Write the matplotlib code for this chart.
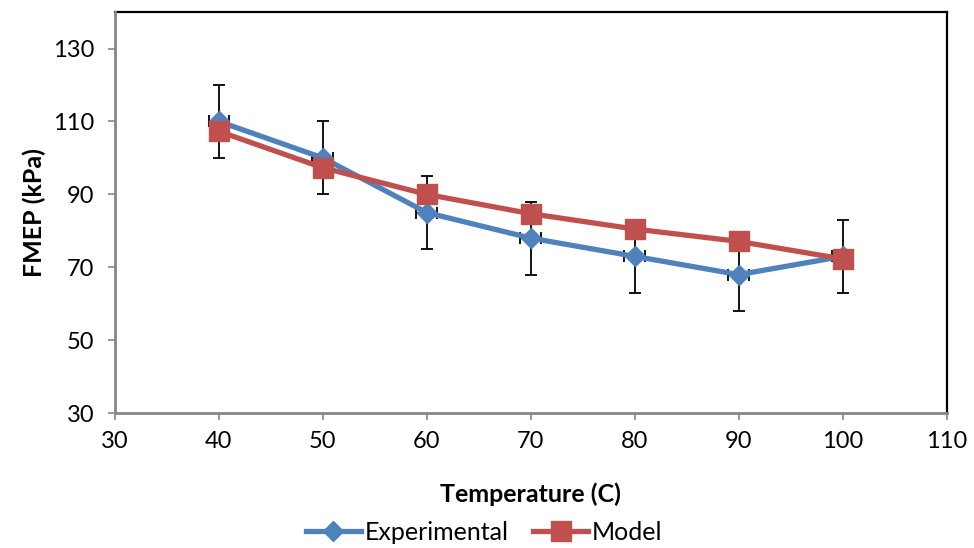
import matplotlib
matplotlib.use("Agg")
import matplotlib.pyplot as plt
from matplotlib.lines import Line2D

plt.rcParams['font.family'] = ['Lato', 'DejaVu Sans']

temperature = [40, 50, 60, 70, 80, 90, 100]
experimental = [110.0, 100.0, 85.0, 78.0, 73.0, 68.0, 73.0]
model = [107.3, 97.3, 90.0, 84.7, 80.5, 77.1, 72.3]
exp_yerr = [10, 10, 10, 10, 10, 10, 10]
exp_xerr = [1, 1, 1, 1, 1, 1, 1]

blue = '#4F81BD'
red = '#C0504D'
axis_col = '#868686'

fig = plt.figure(figsize=(9.74, 5.48), dpi=100)
ax = fig.add_axes([0.118, 0.246, 0.854, 0.732])

ax.errorbar(temperature, experimental, yerr=exp_yerr, xerr=exp_xerr,
            fmt='none', ecolor='black', elinewidth=1.3, capsize=4.5,
            capthick=1.3, zorder=2)
ax.plot(temperature, experimental, color=blue, lw=3.8, marker='D',
        ms=10, mfc=blue, mec=blue, zorder=3, label='Experimental')
ax.plot(temperature, model, color=red, lw=3.8, marker='s',
        ms=14, mfc=red, mec=red, zorder=4, label='Model')

ax.set_xlim(30, 110)
ax.set_ylim(30, 140)
ax.set_xticks(range(30, 111, 10))
ax.set_yticks(range(30, 131, 20))

# plot-area border in black, value/category axes in gray on top
for side in ('top', 'right'):
    ax.spines[side].set_color('black')
    ax.spines[side].set_linewidth(1.6)
for side in ('left', 'bottom'):
    ax.spines[side].set_color(axis_col)
    ax.spines[side].set_linewidth(2.0)
    ax.spines[side].set_zorder(5)
ax.tick_params(axis='both', direction='out', length=5, width=1.2,
               color=axis_col, labelsize=17, labelcolor='black')
ax.tick_params(axis='x', pad=8)
ax.tick_params(axis='y', pad=10)

ax.set_xlabel('Temperature (C)', fontsize=18, fontweight='bold', labelpad=22)
ax.set_ylabel('FMEP (kPa)', fontsize=18, fontweight='bold', labelpad=5)

handles = [
    Line2D([], [], color=blue, lw=3.8, marker='D', ms=10, mfc=blue, mec=blue),
    Line2D([], [], color=red, lw=3.8, marker='s', ms=14, mfc=red, mec=red),
]
fig.legend(handles, ['Experimental', 'Model'], loc='center',
           bbox_to_anchor=(0.497, 0.028), ncol=2, frameon=False,
           fontsize=18, handlelength=2.2, handletextpad=0.15,
           columnspacing=1.0)

fig.savefig('out.png', dpi=100)
